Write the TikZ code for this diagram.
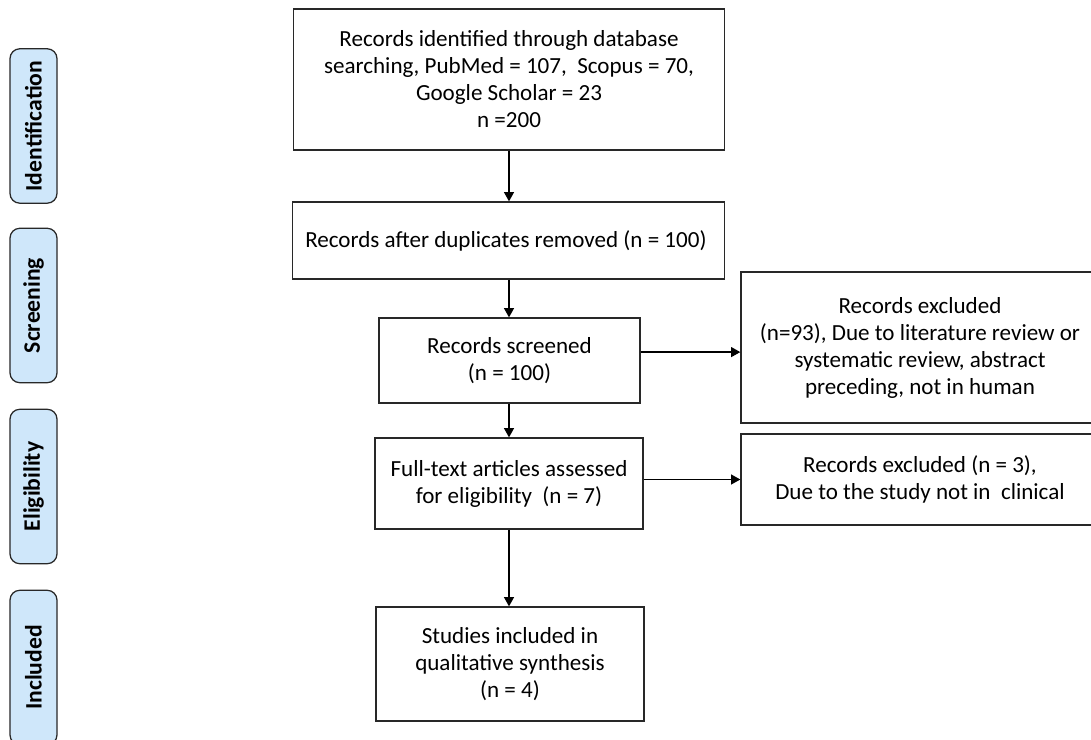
\documentclass[tikz,border=0pt]{standalone}
\usepackage{fontspec}
\setmainfont{Carlito}
\usepackage{tikz}
\usetikzlibrary{arrows.meta, positioning, calc}

\definecolor{phaseblue}{RGB}{207, 231, 250}
\definecolor{edgegray}{RGB}{40, 40, 40}

\begin{document}
\begin{tikzpicture}[x=0.025cm, y=-0.025cm,
  flowbox/.style={draw=edgegray, line width=0.9pt, align=center, inner sep=2pt,
    font=\fontsize{16.4}{19.2}\selectfont},
  phasebox/.style={draw=edgegray, line width=0.9pt, fill=phaseblue, rounded corners=7pt,
    rotate=90, minimum width=3.86cm, minimum height=1.175cm, inner sep=0pt,
    font=\fontsize{16.8}{19}\selectfont\bfseries},
  arr/.style={draw=black, line width=0.9pt, -{Triangle[width=7pt, length=6.5pt]}}]
  \useasboundingbox (0,0) rectangle (1091,740);

  % Phase labels
  \node[phasebox] (identification) at (33.5, 126) {Identification};
  \node[phasebox] (screening) at (33.5, 305.5) {Screening};
  \node[phasebox] (eligibility) at (33.5, 486.5) {Eligibility};
  \node[phasebox] (included) at (33.5, 667.5) {Included};

  % Main column
  \node[flowbox, minimum width=10.775cm, minimum height=3.525cm] (identified) at (509, 79.5) {
    Records identified through database\\
    searching, PubMed = 107, \ Scopus = 70,\\
    Google Scholar = 23\\
    n =200
  };
  \node[flowbox, minimum width=10.8cm, minimum height=1.925cm] (deduped) at (508.5, 240.5) {
    Records after duplicates removed (n = 100)
  };
  \node[flowbox, minimum width=6.525cm, minimum height=2.125cm] (screened) at (509.5, 360.5) {
    Records screened\\
    (n = 100)
  };
  \node[flowbox, minimum width=6.7cm, minimum height=2.275cm] (fulltext) at (509, 483.5) {
    Full-text articles assessed\\
    for eligibility \ (n = 7)
  };
  \node[flowbox, minimum width=6.7cm, minimum height=2.85cm] (synthesis) at (510, 664) {
    Studies included in\\
    qualitative synthesis\\
    (n = 4)
  };

  % Exclusions
  \node[flowbox, minimum width=8.95cm, minimum height=3.775cm] (excluded1) at (920, 347.5) {
    Records excluded\\
    (n=93), Due to literature review or\\
    systematic review, abstract\\
    preceding, not in human
  };
  \node[flowbox, minimum width=8.95cm, minimum height=2.275cm] (excluded2) at (920, 479.5) {
    Records excluded (n = 3),\\
    Due to the study not in \ clinical
  };

  % Arrows
  \draw[arr] (identified.south) -- (identified.south |- deduped.north);
  \draw[arr] (identified.south |- deduped.south) -- (identified.south |- screened.north);
  \draw[arr] (identified.south |- screened.south) -- (identified.south |- fulltext.north);
  \draw[arr] (identified.south |- fulltext.south) -- (identified.south |- synthesis.north);
  \draw[arr] ([yshift=0.21cm]screened.east) -- ([yshift=0.21cm]screened.east -| excluded1.west);
  \draw[arr] ([yshift=0.1cm]fulltext.east) -- ([yshift=0.1cm]fulltext.east -| excluded2.west);
\end{tikzpicture}
\end{document}
